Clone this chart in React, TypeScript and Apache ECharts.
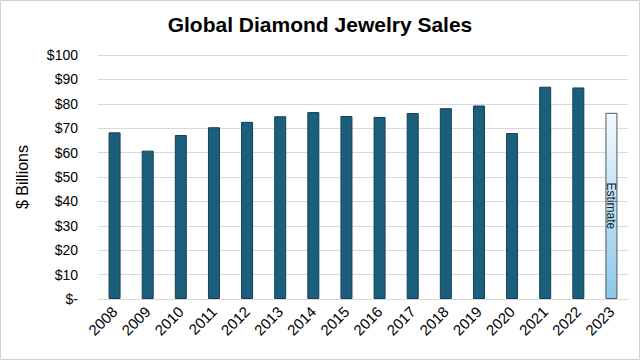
import React, { useEffect, useRef } from "react";
import * as echarts from "echarts";

const years = ["2008","2009","2010","2011","2012","2013","2014","2015","2016","2017","2018","2019","2020","2021","2022","2023"];
const sales = [68.3, 60.8, 67.2, 70.4, 72.6, 74.9, 76.6, 75.0, 74.6, 76.2, 78.2, 79.3, 68.0, 87.0, 86.7, 76.3];
const estimateYear = "2023";
const yTicks = [0, 10, 20, 30, 40, 50, 60, 70, 80, 90, 100];

export default function App() {
  const ref = useRef<HTMLDivElement>(null);
  useEffect(() => {
    if (!ref.current) return;
    const chart = echarts.init(ref.current, undefined, { renderer: "svg" });
    const data = years.map((y, i) => {
      if (y === estimateYear) {
        return {
          value: sales[i],
          itemStyle: {
            color: new echarts.graphic.LinearGradient(0, 0, 0, 1, [
              { offset: 0, color: "#f3f9fd" },
              { offset: 1, color: "#8cc8ea" },
            ]),
            borderColor: "#4a5a63",
            borderWidth: 1,
          },
          label: {
            show: true,
            position: "inside",
            rotate: -90,
            formatter: "Estimate",
            color: "#10222c",
            fontSize: 12,
            fontFamily: "Liberation Sans, Arial, sans-serif",
          },
        };
      }
      return { value: sales[i] };
    });
    chart.setOption({
      animation: false,
      backgroundColor: "#ffffff",
      title: {
        text: "Global Diamond Jewelry Sales",
        left: "center",
        top: 9,
        textStyle: {
          fontSize: 21,
          fontWeight: "bold",
          fontFamily: "Liberation Sans, Arial, sans-serif",
          color: "#000",
        },
      },
      grid: { left: 98, right: 12, top: 55, bottom: 61 },
      xAxis: {
        type: "category",
        data: years,
        axisLine: { lineStyle: { color: "#d9d9d9" } },
        axisTick: { show: false },
        axisLabel: {
          rotate: 45,
          fontSize: 15,
          color: "#000",
          margin: 10,
          fontFamily: "Liberation Sans, Arial, sans-serif",
        },
      },
      yAxis: {
        type: "value",
        min: 0,
        max: 100,
        interval: 10,
        name: "$ Billions",
        nameLocation: "middle",
        nameGap: 68,
        nameRotate: 90,
        nameTextStyle: {
          fontSize: 16,
          color: "#000",
          fontFamily: "Liberation Sans, Arial, sans-serif",
        },
        axisLabel: {
          fontSize: 14,
          color: "#000",
          margin: 20,
          fontFamily: "Liberation Sans, Arial, sans-serif",
          formatter: (v: number) => (yTicks.includes(v) ? (v === 0 ? "$-" : "$" + v) : ""),
        },
        splitLine: { lineStyle: { color: "#d9d9d9", width: 1 } },
        axisLine: { show: false },
        axisTick: { show: false },
      },
      series: [
        {
          type: "bar",
          data,
          barWidth: 12,
          itemStyle: { color: "#1c5f7c", borderColor: "#123f54", borderWidth: 1 },
        },
      ],
      graphic: [
        {
          type: "rect",
          shape: { x: 0.5, y: 0.5, width: 639, height: 359 },
          style: { fill: "none", stroke: "#d0d0d0", lineWidth: 1 },
          silent: true,
        },
      ],
    });
    return () => chart.dispose();
  }, []);
  return (
    <div
      ref={ref}
      style={{ position: "fixed", left: 0, top: 0, width: 640, height: 360 }}
    />
  );
}
